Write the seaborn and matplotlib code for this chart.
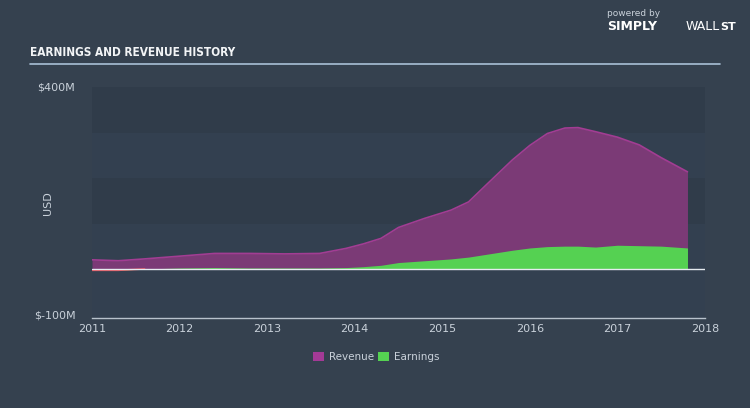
import matplotlib
matplotlib.use("Agg")
import matplotlib.pyplot as plt
import seaborn as sns
import pandas as pd
from matplotlib.patches import Rectangle

# ---- data (USD millions) ----
dates = [2011.0, 2011.3, 2011.6, 2012.0, 2012.4, 2012.8, 2013.2, 2013.6, 2013.9,
         2014.1, 2014.3, 2014.5, 2014.8, 2015.1, 2015.3, 2015.5, 2015.8, 2016.0,
         2016.2, 2016.4, 2016.55, 2016.75, 2017.0, 2017.25, 2017.5, 2017.8]
revenue = [21, 19, 23, 29, 35, 35, 34, 35, 46, 56, 68, 92, 112, 130, 148, 185,
           240, 272, 298, 310, 311, 302, 290, 273, 245, 214]
earnings = [-2, -2, 1, 3, 4, 3, 3, 3, 4, 6, 9, 15, 19, 23, 27, 33, 42, 47, 50,
            51, 51, 49, 53, 52, 51, 47]
yticks = [-100, 400]
ytick_labels = ["$-100M", "$400M"]
xticks = [2011, 2012, 2013, 2014, 2015, 2016, 2017, 2018]

df = pd.DataFrame({"date": dates, "Revenue": revenue, "Earnings": earnings})

BG = "#35414f"
AXBG = "#334050"
BAND = "#303c4a"
TXT = "#c9d1da"
REV_FILL = "#7b3a76"
REV_LINE = "#a23d93"
EAR = "#55d152"

sns.set_theme(style="white")
plt.rcParams["font.family"] = ["DejaVu Sans"]

fig = plt.figure(figsize=(7.5, 4.08), dpi=100, facecolor=BG)
W, H = 750, 408

def fx(px):
    return px / W

def fy(py):
    return 1 - py / H

ax = fig.add_axes([fx(92), fy(318), fx(705) - fx(92), (318 - 87) / H])
ax.set_facecolor(AXBG)
ax.set_xlim(2011, 2018)
ax.set_ylim(-106.6, 400)

for lo, hi in [(300, 400), (100, 200)]:
    ax.axhspan(lo, hi, color=BAND, linewidth=0, zorder=0)

ax.fill_between(df["date"], 0, df["Revenue"], color=REV_FILL, linewidth=0, zorder=2)
ax.fill_between(df["date"], 0, df["Earnings"], color=EAR, linewidth=0, zorder=3)
sns.lineplot(data=df, x="date", y="Revenue", ax=ax, color=REV_LINE, linewidth=1.2,
             zorder=4, legend=False)
neg = df[df["Earnings"] <= 1]
sns.lineplot(x=neg["date"], y=neg["Earnings"], ax=ax, color="#e0505a", linewidth=1.2,
             zorder=4, legend=False)
ax.axhline(0, color="#e6ebf0", linewidth=1, zorder=5)

for s in ["top", "right", "left"]:
    ax.spines[s].set_visible(False)
ax.spines["bottom"].set_color("#b8c2cc")
ax.spines["bottom"].set_linewidth(1)
ax.set_xticks(xticks)
ax.set_xticklabels([str(x) for x in xticks], color=TXT, fontsize=8)
ax.tick_params(axis="x", direction="in", length=5, color="#b8c2cc", pad=4)
ax.set_yticks(yticks)
ax.set_yticklabels(ytick_labels, color=TXT, fontsize=8)
ax.tick_params(axis="y", length=0, pad=12)
ax.set_xlabel("")
ax.set_ylabel("")
fig.text(fx(48), fy(203), "USD", color=TXT, fontsize=8, rotation=90,
         ha="center", va="center")

# title and rule
fig.text(fx(30), fy(52), "EARNINGS AND REVENUE HISTORY", color="#f2f4f6", fontsize=8.5,
         fontweight="bold", fontstretch="condensed", family=["DejaVu Sans"],
         va="center", ha="left")
fig.add_artist(plt.Line2D([fx(30), fx(720)], [fy(64), fy(64)], color="#a9c0d6",
                          linewidth=1.2, transform=fig.transFigure))

# logo text
fig.text(fx(607), fy(14), "powered by", color="#c9d1da", fontsize=6.5, va="center")
fig.text(fx(607), fy(27), "SIMPLY", color="white", fontsize=9, fontweight="bold", va="center")
fig.text(fx(686), fy(27), "WALL", color="white", fontsize=9, va="center")
fig.text(fx(720), fy(27), "ST", color="white", fontsize=8, fontweight="bold", va="center")

# legend
for x0, lbl, col in [(313, "Revenue", "#a33a96"), (378, "Earnings", EAR)]:
    fig.patches.append(Rectangle((fx(x0), fy(361)), 11 / W, 9 / H, transform=fig.transFigure,
                                 facecolor=col, edgecolor="none"))
    fig.text(fx(x0 + 16), fy(356.5), lbl, color=TXT, fontsize=7.5, va="center")

fig.savefig("out.png", dpi=100, facecolor=BG)
